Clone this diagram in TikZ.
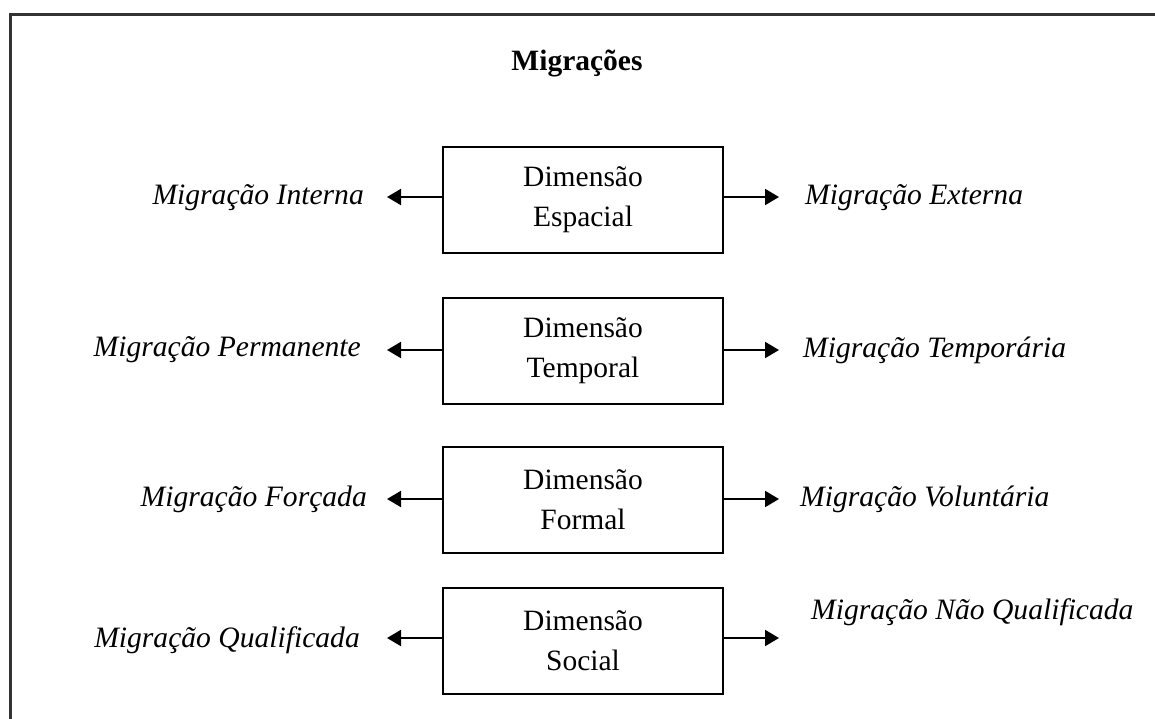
\documentclass[tikz,border=0pt]{standalone}
\usepackage{fontspec}
\setmainfont{Liberation Serif}
\usetikzlibrary{arrows.meta}
\tikzset{
  dimbox/.style={draw=black, line width=2pt, minimum width=280pt, minimum height=106pt, inner sep=0pt, align=center, font=\fontsize{29.5}{40}\selectfont},
  lbl/.style={inner sep=0pt, font=\fontsize{29.6}{34}\selectfont\itshape},
  conn/.style={line width=2pt, -{Triangle[length=14pt,width=16pt]}},
  frame/.style={line width=3pt, draw=black!80}
}
\begin{document}
\begin{tikzpicture}[x=1pt,y=-1pt]
\useasboundingbox (0,0) rectangle (1155,718);
\draw[frame] (10,720) -- (10,14) -- (1157,14);
\node[inner sep=0pt, font=\fontsize{29.5}{34}\selectfont\bfseries] (title) at (577,63) {Migrações};
% row 1
\node[dimbox] (b1) at (583,199.5) {Dimensão\\Espacial};
\coordinate (l1) at (387,197);
\coordinate (r1) at (779,197);
\node[lbl, anchor=east] (t1l) at (364,198) {Migração Interna};
\node[lbl, anchor=west] (t1r) at (805,198) {Migração Externa};
\draw[conn] (b1.west |- l1) -- (l1);
\draw[conn] (b1.east |- r1) -- (r1);
% row 2
\node[dimbox] (b2) at (583,351) {Dimensão\\Temporal};
\coordinate (l2) at (387,350);
\coordinate (r2) at (779,350);
\node[lbl, anchor=east] (t2l) at (361,350) {Migração Permanente};
\node[lbl, anchor=west] (t2r) at (803,350) {Migração Temporária};
\draw[conn] (b2.west |- l2) -- (l2);
\draw[conn] (b2.east |- r2) -- (r2);
% row 3
\node[dimbox] (b3) at (583,500) {Dimensão\\Formal};
\coordinate (l3) at (387,499);
\coordinate (r3) at (779,499);
\node[lbl, anchor=east] (t3l) at (367,499) {Migração Forçada};
\node[lbl, anchor=west] (t3r) at (800,499) {Migração Voluntária};
\draw[conn] (b3.west |- l3) -- (l3);
\draw[conn] (b3.east |- r3) -- (r3);
% row 4
\node[dimbox] (b4) at (583,640.5) {Dimensão\\Social};
\coordinate (l4) at (387,638);
\coordinate (r4) at (779,638);
\node[lbl, anchor=east] (t4l) at (360,640) {Migração Qualificada};
\node[lbl, anchor=west] (t4r) at (811,612) {Migração Não Qualificada};
\draw[conn] (b4.west |- l4) -- (l4);
\draw[conn] (b4.east |- r4) -- (r4);
\end{tikzpicture}
\end{document}
